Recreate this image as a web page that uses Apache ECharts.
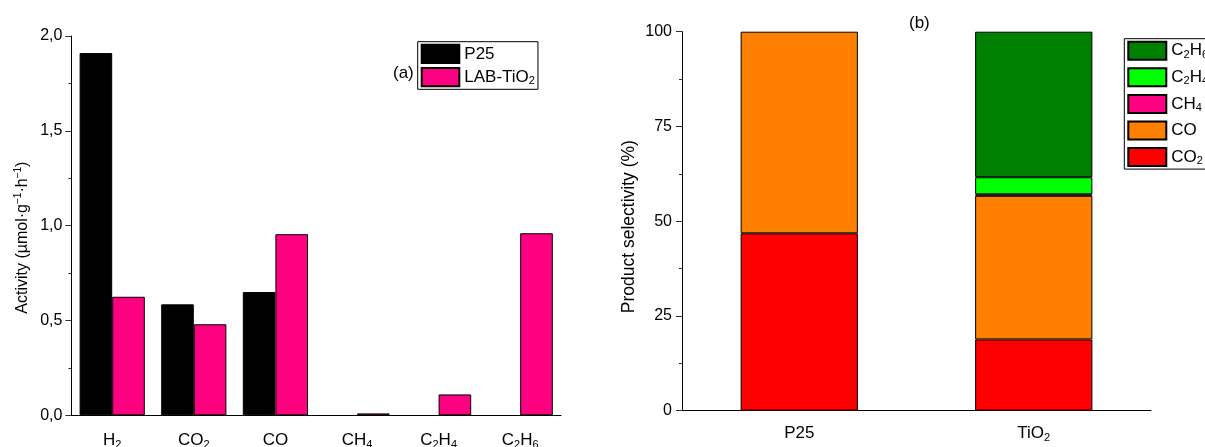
<!DOCTYPE html>
<html lang="en">

<head>
    <meta charset="UTF-8">
    <title>Activity and selectivity</title>
    <script src="https://cdn.jsdelivr.net/npm/echarts@6.0.0/dist/echarts.min.js"></script>
    <style>
        body {
            margin: 0;
            background-color: white;
        }

        #main {
            width: 1205px;
            height: 447px;
        }
    </style>
</head>

<body>
    <div id="main"></div>

    <script>
        // (a) activity per product (null = no bar drawn)
        let activityCategories = ['H2', 'CO2', 'CO', 'CH4', 'C2H4', 'C2H6'];
        let p25Activity = [1.91, 0.585, 0.65, null, null, null];
        let labActivity = [0.625, 0.48, 0.955, 0.01, 0.11, 0.96];
        let activityTicks = ['0,0', '0,5', '1,0', '1,5', '2,0'];

        // (b) product selectivity, stacked bottom to top
        let selectivityCategories = ['P25', 'TiO2'];
        let co2Sel = [46.8, 18.8];
        let coSel = [53.2, 37.9];
        let ch4Sel = [null, 0.4];
        let c2h4Sel = [null, 4.5];
        let c2h6Sel = [null, 38.4];

        let font = '"Liberation Sans", Arial, sans-serif';
        let plainNames = ['P25'];

        // chemical formulas: digits become subscripts
        // labels without subscript get an empty sub token so every line has the same height
        function chem(name) {
            let out = plainNames.indexOf(name) >= 0 ? name : name.replace(/(\d)/g, '{sub|$1}');
            if (out.indexOf('{sub|') < 0) out += '{sub|\u200b}';
            return out;
        }

        let subRich = {
            sub: { fontSize: 11, fontFamily: font, color: '#000', padding: [9, 0, 0, 0] }
        };
        let legendRich = {
            sub: { fontSize: 11, fontFamily: font, color: '#000', padding: [8, 0, 0, 0] }
        };

        let axisLine = { lineStyle: { color: '#000', width: 1 } };
        let barBorder = { borderColor: '#000', borderWidth: 1 };
        let tickStyle = { color: '#333' };

        let myChart = echarts.init(document.getElementById('main'));

        let option = {
            animation: false,
            textStyle: { fontFamily: font },
            title: [
                { text: '(a)', left: 388, top: 60, textStyle: { fontSize: 17, fontWeight: 'normal', color: '#000', fontFamily: font } },
                { text: '(b)', left: 904, top: 10, textStyle: { fontSize: 17, fontWeight: 'normal', color: '#000', fontFamily: font } }
            ],
            grid: [
                { left: 71.4, top: 36, right: 644, bottom: 31.7, outerBoundsMode: 'none' },
                { left: 682, top: 31.7, right: 54, bottom: 36.3, outerBoundsMode: 'none' }
            ],
            legend: [
                {
                    data: ['P25', 'LAB-TiO2'],
                    orient: 'vertical',
                    left: 417.7,
                    top: 41.7,
                    icon: 'rect',
                    itemWidth: 37.6,
                    itemHeight: 18.3,
                    itemGap: 3,
                    padding: [2, 3, 2, 3],
                    borderColor: '#000',
                    borderWidth: 1,
                    backgroundColor: '#fff',
                    formatter: chem,
                    textStyle: { fontSize: 17, color: '#000', fontFamily: font, rich: legendRich }
                },
                {
                    data: ['C2H6', 'C2H4', 'CH4', 'CO', 'CO2'],
                    orient: 'vertical',
                    left: 1124.3,
                    top: 38.7,
                    icon: 'rect',
                    itemWidth: 38,
                    itemHeight: 18,
                    itemGap: 6.6,
                    padding: [2, 6, 2, 3],
                    borderColor: '#000',
                    borderWidth: 1,
                    backgroundColor: '#fff',
                    formatter: chem,
                    textStyle: { fontSize: 17, color: '#000', fontFamily: font, rich: legendRich }
                }
            ],
            xAxis: [
                {
                    type: 'category',
                    gridIndex: 0,
                    data: activityCategories,
                    boundaryGap: true,
                    axisLine: axisLine,
                    axisTick: { alignWithLabel: true, length: 6, lineStyle: tickStyle },
                    axisLabel: {
                        interval: 0,
                        margin: 15,
                        fontSize: 17,
                        color: '#000',
                        fontFamily: font,
                        formatter: chem,
                        rich: subRich
                    }
                },
                {
                    type: 'category',
                    gridIndex: 1,
                    data: selectivityCategories,
                    boundaryGap: true,
                    axisLine: axisLine,
                    axisTick: { alignWithLabel: true, length: 6, lineStyle: tickStyle },
                    axisLabel: {
                        interval: 0,
                        margin: 12.5,
                        fontSize: 17,
                        color: '#000',
                        fontFamily: font,
                        formatter: chem,
                        rich: subRich
                    }
                },
                {
                    // short ticks on the category boundaries
                    type: 'category',
                    gridIndex: 1,
                    data: selectivityCategories,
                    boundaryGap: true,
                    axisLine: { show: false },
                    axisTick: { length: 3, lineStyle: tickStyle },
                    axisLabel: { show: false }
                }
            ],
            yAxis: [
                {
                    type: 'value',
                    gridIndex: 0,
                    min: 0,
                    max: 2,
                    interval: 0.5,
                    name: 'Activity (µmol·g{sup|−1}·h{sup|−1})',
                    nameLocation: 'middle',
                    nameGap: 40,
                    nameTextStyle: {
                        fontSize: 16,
                        color: '#000',
                        fontFamily: font,
                        padding: [0, 0, 0, -24],
                        rich: { sup: { fontSize: 10, fontFamily: font, color: '#000', padding: [0, 0, 8, 0] } }
                    },
                    axisLine: { show: true, lineStyle: { color: '#000', width: 1 } },
                    axisTick: { show: true, length: 6, lineStyle: tickStyle },
                    minorTick: { show: true, splitNumber: 2, length: 3, lineStyle: tickStyle },
                    splitLine: { show: false },
                    axisLabel: {
                        margin: 9,
                        fontSize: 16,
                        color: '#000',
                        fontFamily: font,
                        formatter: function (v) {
                            return activityTicks[Math.round(v / 0.5)];
                        }
                    }
                },
                {
                    type: 'value',
                    gridIndex: 1,
                    min: 0,
                    max: 100,
                    interval: 25,
                    name: 'Product selectivity (%)',
                    nameLocation: 'middle',
                    nameGap: 44,
                    nameTextStyle: { fontSize: 17.5, color: '#000', fontFamily: font, padding: [0, 0, 0, -11] },
                    axisLine: { show: true, lineStyle: { color: '#000', width: 1 } },
                    axisTick: { show: true, length: 6, lineStyle: tickStyle },
                    minorTick: { show: true, splitNumber: 2, length: 3, lineStyle: tickStyle },
                    splitLine: { show: false },
                    axisLabel: { margin: 10, fontSize: 16, color: '#000', fontFamily: font }
                }
            ],
            series: [
                {
                    name: 'P25',
                    type: 'bar',
                    xAxisIndex: 0,
                    yAxisIndex: 0,
                    data: p25Activity,
                    barWidth: 32.6,
                    barGap: '0%',
                    itemStyle: Object.assign({ color: '#000000' }, barBorder)
                },
                {
                    name: 'LAB-TiO2',
                    type: 'bar',
                    xAxisIndex: 0,
                    yAxisIndex: 0,
                    data: labActivity,
                    barWidth: 32.6,
                    barGap: '0%',
                    itemStyle: Object.assign({ color: '#FF0080' }, barBorder)
                },
                {
                    name: 'CO2',
                    type: 'bar',
                    xAxisIndex: 1,
                    yAxisIndex: 1,
                    stack: 'sel',
                    barWidth: '50%',
                    data: co2Sel,
                    itemStyle: Object.assign({ color: '#FF0000' }, barBorder)
                },
                {
                    name: 'CO',
                    type: 'bar',
                    xAxisIndex: 1,
                    yAxisIndex: 1,
                    stack: 'sel',
                    barWidth: '50%',
                    data: coSel,
                    itemStyle: Object.assign({ color: '#FF8000' }, barBorder)
                },
                {
                    name: 'CH4',
                    type: 'bar',
                    xAxisIndex: 1,
                    yAxisIndex: 1,
                    stack: 'sel',
                    barWidth: '50%',
                    data: ch4Sel,
                    itemStyle: Object.assign({ color: '#FF0080' }, barBorder)
                },
                {
                    name: 'C2H4',
                    type: 'bar',
                    xAxisIndex: 1,
                    yAxisIndex: 1,
                    stack: 'sel',
                    barWidth: '50%',
                    data: c2h4Sel,
                    itemStyle: Object.assign({ color: '#00FF00' }, barBorder)
                },
                {
                    name: 'C2H6',
                    type: 'bar',
                    xAxisIndex: 1,
                    yAxisIndex: 1,
                    stack: 'sel',
                    barWidth: '50%',
                    data: c2h6Sel,
                    itemStyle: Object.assign({ color: '#008000' }, barBorder)
                }
            ]
        };

        myChart.setOption(option);
    </script>

</body>

</html>
